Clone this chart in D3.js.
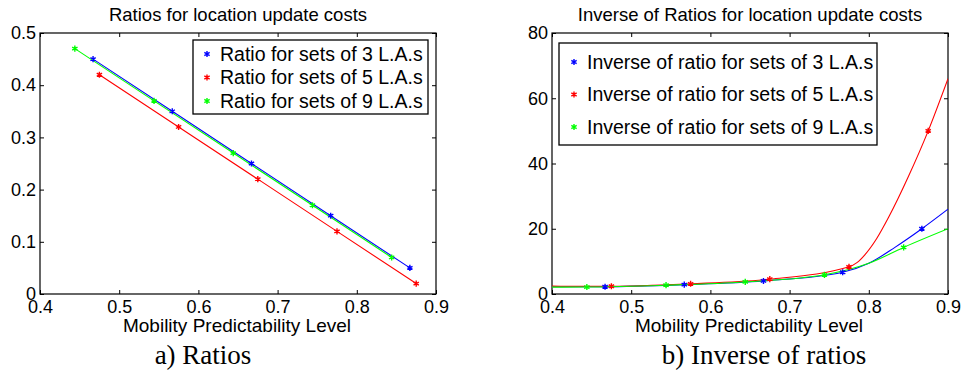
<html>
<head>
    <script src="https://d3js.org/d3.v7.min.js"></script>
    <style>
        body { margin: 0; background: #fff; }
        svg text { font-family: "Liberation Sans", Arial, sans-serif; fill: #000; }
        .axis text { font-size: 18px; }
        .caption { font-family: "Liberation Serif", "Times New Roman", serif !important; font-size: 27px; }
    </style>
</head>
<body>
<script>
        // mobility predictability level of each plotted point
        var x3 = [0.467, 0.567, 0.667, 0.767, 0.867];
        var x5 = [0.475, 0.575, 0.675, 0.775, 0.875];
        var x9 = [0.444, 0.544, 0.644, 0.744, 0.844];

        // a) ratios
        var ratio3 = [0.45, 0.35, 0.25, 0.15, 0.05];
        var ratio5 = [0.42, 0.32, 0.22, 0.12, 0.02];
        var ratio9 = [0.47, 0.37, 0.27, 0.17, 0.07];

        // b) inverse of ratios (markers)
        var inv3 = [2.22, 2.86, 4.0, 6.67, 20.0];
        var inv5 = [2.38, 3.13, 4.55, 8.33, 50.0];
        var inv9 = [2.13, 2.70, 3.70, 5.88, 14.29];

        // b) the fitted curves
        var curveX3 = [0.4, 0.467, 0.567, 0.667, 0.767, 0.8, 0.833, 0.867, 0.9];
        var curveY3 = [2.2, 2.22, 2.86, 4.0, 6.67, 9.4, 14.3, 20.0, 26.0];
        var curveX5 = [0.4, 0.475, 0.575, 0.675, 0.775, 0.785, 0.795, 0.81, 0.825, 0.85, 0.875, 0.9];
        var curveY5 = [2.4, 2.38, 3.13, 4.55, 8.33, 9.6, 12.0, 17.0, 23.5, 36.0, 50.0, 66.0];
        var curveX9 = [0.4, 0.444, 0.544, 0.644, 0.744, 0.8, 0.844, 0.9];
        var curveY9 = [2.1, 2.13, 2.70, 3.70, 5.88, 9.4, 14.29, 20.0];

        var xTicks = [0.4, 0.5, 0.6, 0.7, 0.8, 0.9];
        var yTicksA = [0, 0.1, 0.2, 0.3, 0.4, 0.5];
        var yTicksB = [0, 20, 40, 60, 80];

        var colors = ["#0000ff", "#ff0000", "#00ff00"];
        var legendA = ["Ratio for sets of 3 L.A.s", "Ratio for sets of 5 L.A.s", "Ratio for sets of 9 L.A.s"];
        var legendB = ["Inverse of ratio for sets of 3 L.A.s", "Inverse of ratio for sets of 5 L.A.s", "Inverse of ratio for sets of 9 L.A.s"];

        var svg = d3.select("body").append("svg")
            .attr("width", 963)
            .attr("height", 370);

        var star = d3.symbol().type(d3.symbolAsterisk).size(26);

        function zip(xs, ys) {
            return xs.map(function(v, i) { return [v, ys[i]]; });
        }

        function panel(o) {
            var x = d3.scaleLinear().domain([0.4, 0.9]).range([o.left, o.right]);
            var y = d3.scaleLinear().domain(o.yDomain).range([o.bottom, o.top]);
            var g = svg.append("g");

            g.append("clipPath").attr("id", o.id)
              .append("rect")
              .attr("x", o.left).attr("y", o.top)
              .attr("width", o.right - o.left).attr("height", o.bottom - o.top);

            // ticks point inwards on all four sides, labels only bottom and left
            g.append("g").attr("class", "axis")
              .attr("transform", "translate(0," + o.bottom + ")")
              .call(d3.axisBottom(x).tickValues(xTicks).tickSize(-4).tickPadding(6).tickFormat(d3.format(".1f")));
            g.append("g").attr("class", "axis")
              .attr("transform", "translate(0," + o.top + ")")
              .call(d3.axisTop(x).tickValues(xTicks).tickSize(-4).tickFormat(""));
            g.append("g").attr("class", "axis")
              .attr("transform", "translate(" + o.left + ",0)")
              .call(d3.axisLeft(y).tickValues(o.yTicks).tickSize(-4).tickPadding(4).tickFormat(o.yFormat));
            g.append("g").attr("class", "axis")
              .attr("transform", "translate(" + o.right + ",0)")
              .call(d3.axisRight(y).tickValues(o.yTicks).tickSize(-4).tickFormat(""));
            g.selectAll(".axis .domain").remove();
            g.selectAll(".axis line").attr("stroke", "#000");

            g.append("rect")
              .attr("x", o.left).attr("y", o.top)
              .attr("width", o.right - o.left).attr("height", o.bottom - o.top)
              .attr("fill", "none").attr("stroke", "#000").attr("stroke-width", 1.2);

            var line = d3.line()
              .x(function(d) { return x(d[0]); })
              .y(function(d) { return y(d[1]); })
              .curve(o.curve);

            o.lines.forEach(function(pts, i) {
                g.append("path")
                  .attr("d", line(pts))
                  .attr("clip-path", "url(#" + o.id + ")")
                  .attr("fill", "none")
                  .attr("stroke", colors[i])
                  .attr("stroke-width", 1.1);
            });
            o.marks.forEach(function(pts, i) {
                g.selectAll(null).data(pts).enter().append("path")
                  .attr("d", star)
                  .attr("transform", function(d) { return "translate(" + x(d[0]) + "," + y(d[1]) + ")"; })
                  .attr("fill", "none")
                  .attr("stroke", colors[i])
                  .attr("stroke-width", 1.4);
            });

            // title, x label, caption
            g.append("text")
              .attr("x", (o.left + o.right) / 2).attr("y", 21)
              .attr("text-anchor", "middle").style("font-size", "18.5px")
              .text(o.title);
            g.append("text")
              .attr("x", (o.left + o.right) / 2 - 1).attr("y", 332)
              .attr("text-anchor", "middle").style("font-size", "19px")
              .text("Mobility Predictability Level");
            g.append("text").attr("class", "caption")
              .attr("x", o.captionX).attr("y", 364)
              .attr("text-anchor", "middle")
              .text(o.caption);

            // legend
            var lg = o.legend;
            g.append("rect")
              .attr("x", lg.x).attr("y", lg.y)
              .attr("width", lg.w).attr("height", lg.h)
              .attr("fill", "#fff").attr("stroke", "#000").attr("stroke-width", 1.3);
            lg.labels.forEach(function(t, i) {
                var cy = lg.y + lg.first + i * lg.step;
                g.append("path")
                  .attr("d", star)
                  .attr("transform", "translate(" + (lg.x + lg.mark) + "," + cy + ")")
                  .attr("fill", "none")
                  .attr("stroke", colors[i])
                  .attr("stroke-width", 1.4);
                g.append("text")
                  .attr("x", lg.x + lg.text).attr("y", cy)
                  .attr("dy", "0.35em")
                  .style("font-size", "19.5px")
                  .text(t);
            });
        }

        panel({
            id: "clipA",
            left: 40, right: 436, top: 33, bottom: 294,
            yDomain: [0, 0.5], yTicks: yTicksA,
            yFormat: function(d) { return d === 0 ? "0" : d3.format(".1f")(d); },
            curve: d3.curveLinear,
            lines: [zip(x3, ratio3), zip(x5, ratio5), zip(x9, ratio9)],
            marks: [zip(x3, ratio3), zip(x5, ratio5), zip(x9, ratio9)],
            title: "Ratios for location update costs",
            caption: "a) Ratios", captionX: 203,
            legend: { x: 193, y: 40, w: 235, h: 74, first: 14, step: 23.5, mark: 14, text: 27, labels: legendA }
        });

        panel({
            id: "clipB",
            left: 552, right: 948, top: 33, bottom: 294,
            yDomain: [0, 80], yTicks: yTicksB,
            yFormat: d3.format("d"),
            curve: d3.curveMonotoneX,
            lines: [zip(curveX3, curveY3), zip(curveX5, curveY5), zip(curveX9, curveY9)],
            marks: [zip(x3, inv3), zip(x5, inv5), zip(x9, inv9)],
            title: "Inverse of Ratios for location update costs",
            caption: "b) Inverse of ratios", captionX: 764,
            legend: { x: 559, y: 43, w: 318, h: 102, first: 19, step: 32.5, mark: 15, text: 28, labels: legendB }
        });
</script>
</body>
</html>
